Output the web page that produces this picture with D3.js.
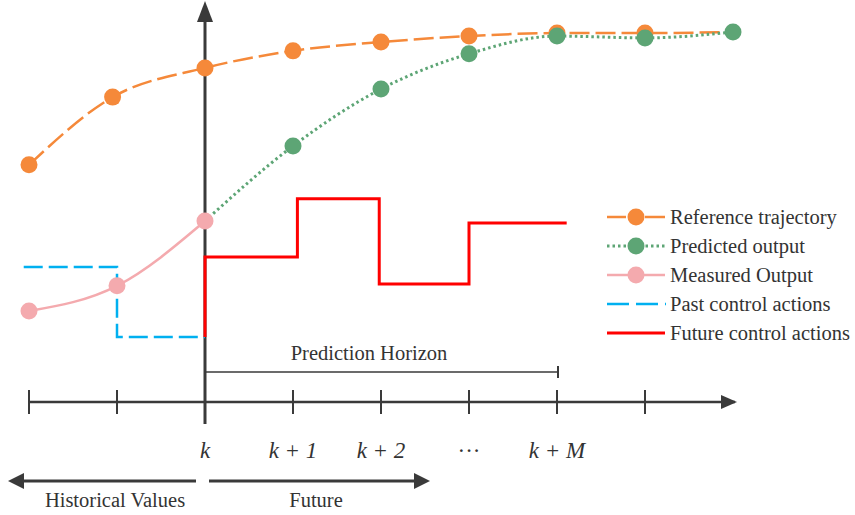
<!DOCTYPE html>
<html><head><meta charset="utf-8">
<script src="https://cdn.jsdelivr.net/npm/d3@7"></script>
<style>body{margin:0;background:#fff}svg{display:block}text{font-family:"Liberation Serif","Times New Roman",serif;fill:#333}</style>
</head><body>
<script>
// time steps relative to k, values in normalized units
const ticks = [-2,-1,0,1,2,3,4,5];
const tickLabels = [{t:0,l:"k"},{t:1,l:"k + 1"},{t:2,l:"k + 2"},{t:3,l:"···"},{t:4,l:"k + M"}];
const reference = [[-2,0.641],[-1.05,0.824],[0,0.903],[1,0.949],[2,0.973],[3,0.989],[4,0.997],[5,0.997],[6,1.0]];
const predicted = [[0,0.489],[1,0.692],[2,0.846],[3,0.941],[4,0.989],[5,0.984],[6,1.0]];
const measured = [[-2,0.246],[-1,0.314],[0,0.489]];
const pastControl = [[-2.06,0.365],[-1,0.365],[-1,0.176],[0,0.176]];
const futureControl = [[0,0.176],[0,0.392],[1.05,0.392],[1.05,0.549],[1.98,0.549],[1.98,0.319],[3,0.319],[3,0.484],[4.11,0.484]];
const legendItems = ["Reference trajectory","Predicted output","Measured Output","Past control actions","Future control actions"];

const W=855,H=515;
const x = d3.scaleLinear().domain([0,1]).range([205,293]);
const y = d3.scaleLinear().domain([0,1]).range([402,32]);
const svg = d3.select("body").append("svg").attr("width",W).attr("height",H);
const axisCol="#3a3a3a";
const FS=20.5;

const C={ref:"#F5893A",pred:"#5DA575",meas:"#F4AAAE",past:"#00B0F0",fut:"#FF0000"};

// horizontal axis
const ax = svg.append("g");
ax.append("line").attr("x1",x(-2)).attr("x2",x(6)+2).attr("y1",y(0)).attr("y2",y(0))
  .attr("stroke",axisCol).attr("stroke-width",2.5);
ax.append("path").attr("d",`M${x(6)+4},${y(0)} l-16,-7 l0,14 Z`).attr("fill",axisCol);
ax.selectAll(".tk").data(ticks).join("line").attr("x1",d=>x(d)).attr("x2",d=>x(d))
  .attr("y1",y(0)-12).attr("y2",y(0)+12).attr("stroke",axisCol).attr("stroke-width",2);
// vertical axis
ax.append("line").attr("x1",x(0)).attr("x2",x(0)).attr("y1",y(0)+22).attr("y2",18)
  .attr("stroke",axisCol).attr("stroke-width",3);
ax.append("path").attr("d",`M${x(0)},1 l-8,21 l16,0 Z`).attr("fill",axisCol);

// tick labels
svg.selectAll(".tl").data(tickLabels).join("text").attr("x",d=>x(d.t)).attr("y",458)
  .attr("text-anchor","middle").attr("font-size",23).attr("font-style",d=>d.t===3?"normal":"italic")
  .text(d=>d.l);

// prediction horizon
svg.append("line").attr("x1",x(0)).attr("x2",x(4)+1).attr("y1",372).attr("y2",372).attr("stroke",axisCol).attr("stroke-width",1.5);
svg.append("line").attr("x1",x(4)+1).attr("x2",x(4)+1).attr("y1",366).attr("y2",378).attr("stroke",axisCol).attr("stroke-width",2);
svg.append("text").attr("x",369).attr("y",360).attr("text-anchor","middle").attr("font-size",FS).text("Prediction Horizon");

// bottom arrows
svg.append("line").attr("x1",196).attr("x2",20).attr("y1",481).attr("y2",481).attr("stroke",axisCol).attr("stroke-width",3);
svg.append("path").attr("d","M8,481 l16,-8 l0,16 Z").attr("fill",axisCol);
svg.append("line").attr("x1",209).attr("x2",418).attr("y1",481).attr("y2",481).attr("stroke",axisCol).attr("stroke-width",3);
svg.append("path").attr("d","M430,481 l-16,-8 l0,16 Z").attr("fill",axisCol);
svg.append("text").attr("x",115).attr("y",507).attr("text-anchor","middle").attr("font-size",FS).text("Historical Values");
svg.append("text").attr("x",316).attr("y",507).attr("text-anchor","middle").attr("font-size",FS).text("Future");

const smooth = d3.line().x(d=>x(d[0])).y(d=>y(d[1])).curve(d3.curveMonotoneX);
const step = d3.line().x(d=>x(d[0])).y(d=>y(d[1]));

// control actions
svg.append("path").attr("d",step(pastControl)).attr("fill","none").attr("stroke",C.past).attr("stroke-width",2.5).attr("stroke-dasharray","19,6");
svg.append("path").attr("d",step(futureControl)).attr("fill","none").attr("stroke",C.fut).attr("stroke-width",3);

// reference
svg.append("path").attr("d",smooth(reference)).attr("fill","none").attr("stroke",C.ref).attr("stroke-width",2.5).attr("stroke-dasharray","20,6");
svg.selectAll(".rd").data(reference.slice(0,8)).join("circle").attr("cx",d=>x(d[0])).attr("cy",d=>y(d[1])).attr("r",8.5).attr("fill",C.ref);
// measured
svg.append("path").attr("d",smooth(measured)).attr("fill","none").attr("stroke",C.meas).attr("stroke-width",2.5);
// predicted
svg.append("path").attr("d",smooth(predicted)).attr("fill","none").attr("stroke",C.pred).attr("stroke-width",3).attr("stroke-dasharray","2.5,3");
svg.selectAll(".md").data(measured).join("circle").attr("cx",d=>x(d[0])).attr("cy",d=>y(d[1])).attr("r",8.5).attr("fill",C.meas);
svg.selectAll(".pd").data(predicted.slice(1)).join("circle").attr("cx",d=>x(d[0])).attr("cy",d=>y(d[1])).attr("r",8.5).attr("fill",C.pred);

// legend
const lg = svg.append("g");
const ly=[217,246,275,304,333];
const styles=[
 {c:C.ref,dash:"20,6",w:2.5,dot:true},
 {c:C.pred,dash:"2.5,3",w:3,dot:true},
 {c:C.meas,dash:null,w:2.5,dot:true},
 {c:C.past,dash:"19,6",w:2.5,dot:false},
 {c:C.fut,dash:null,w:3,dot:false}];
legendItems.forEach((t,i)=>{
  const s=styles[i];
  if(i===0){
    lg.append("line").attr("x1",607).attr("x2",626).attr("y1",ly[i]).attr("y2",ly[i]).attr("stroke",s.c).attr("stroke-width",s.w);
    lg.append("line").attr("x1",645).attr("x2",665).attr("y1",ly[i]).attr("y2",ly[i]).attr("stroke",s.c).attr("stroke-width",s.w);
  } else if(i===3){
    lg.append("line").attr("x1",607).attr("x2",666).attr("y1",ly[i]).attr("y2",ly[i]).attr("stroke",s.c).attr("stroke-width",s.w).attr("stroke-dasharray","22,7");
  } else {
    lg.append("line").attr("x1",607).attr("x2",665).attr("y1",ly[i]).attr("y2",ly[i]).attr("stroke",s.c).attr("stroke-width",s.w).attr("stroke-dasharray",s.dash);
  }
  if(s.dot) lg.append("circle").attr("cx",636).attr("cy",ly[i]).attr("r",8.5).attr("fill",s.c);
  lg.append("text").attr("x",670).attr("y",ly[i]+7).attr("font-size",FS).text(t);
});
</script>
</body></html>
